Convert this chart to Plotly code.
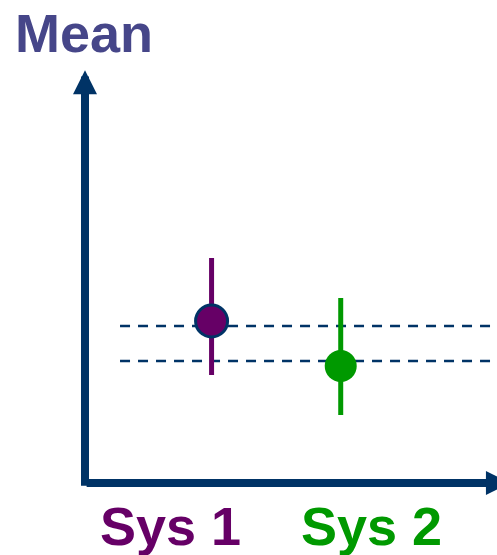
import plotly.graph_objects as go

# data
systems = ["Sys 1", "Sys 2"]
sys_x = [1, 2]
means = [16.2, 11.7]
err_plus = [6.3, 6.8]
err_minus = [5.4, 4.9]
ref_levels = [15.7, 12.2]
label_x = [0.68, 2.24]

colors = ["#660066", "#009900"]
navy = "#003366"
title_color = "#464689"
font_family = "Liberation Sans, Arial, sans-serif"

fig = go.Figure()

# dashed reference levels
for lvl in ref_levels:
	fig.add_hline(y=lvl, x0=0.085, x1=1, line=dict(color=navy, width=2.5, dash="10px,8px"), layer="below")

# means with error bars
for i in range(len(systems)):
	fig.add_trace(go.Scatter(
		x=[sys_x[i]], y=[means[i]], mode="markers",
		marker=dict(size=32, color=colors[i],
			line=dict(color=navy if i == 0 else colors[i], width=3 if i == 0 else 0)),
		error_y=dict(type="data", symmetric=False, array=[err_plus[i]], arrayminus=[err_minus[i]],
			color=colors[i], thickness=5, width=0),
		showlegend=False, hoverinfo="skip"))

# axis arrows
fig.add_annotation(x=0, y=0.976, xref="paper", yref="paper", ax=0, ay=417, text="",
	showarrow=True, arrowhead=2, arrowsize=0.6, arrowwidth=8, arrowcolor=navy)
fig.add_annotation(x=3.31, y=0, xref="x", yref="paper", ax=0.021, ay=0, axref="x", ayref="pixel", text="",
	showarrow=True, arrowhead=2, arrowsize=0.6, arrowwidth=8, arrowcolor=navy)

# category labels
for i in range(len(systems)):
	fig.add_annotation(x=label_x[i], y=0, xref="x", yref="paper", yanchor="top", yshift=-11,
		text="<b>%s</b>" % systems[i], showarrow=False,
		font=dict(family=font_family, size=54, color=colors[i]))

# y title
fig.add_annotation(x=(13 - 85) / 412, y=(483 - 1) / 423, xref="paper", yref="paper",
	xanchor="left", yanchor="top", text="<b>Mean</b>", showarrow=False,
	font=dict(family=font_family, size=54, color=title_color))

fig.update_layout(
	width=497, height=555,
	margin=dict(l=85, r=0, t=60, b=72),
	plot_bgcolor="white", paper_bgcolor="white",
	xaxis=dict(range=[0.02, 3.21], visible=False),
	yaxis=dict(range=[0, 42.3], visible=False),
)

fig.write_html("out.html", config={"displayModeBar": False},
	post_script="document.body.style.margin='0';")
